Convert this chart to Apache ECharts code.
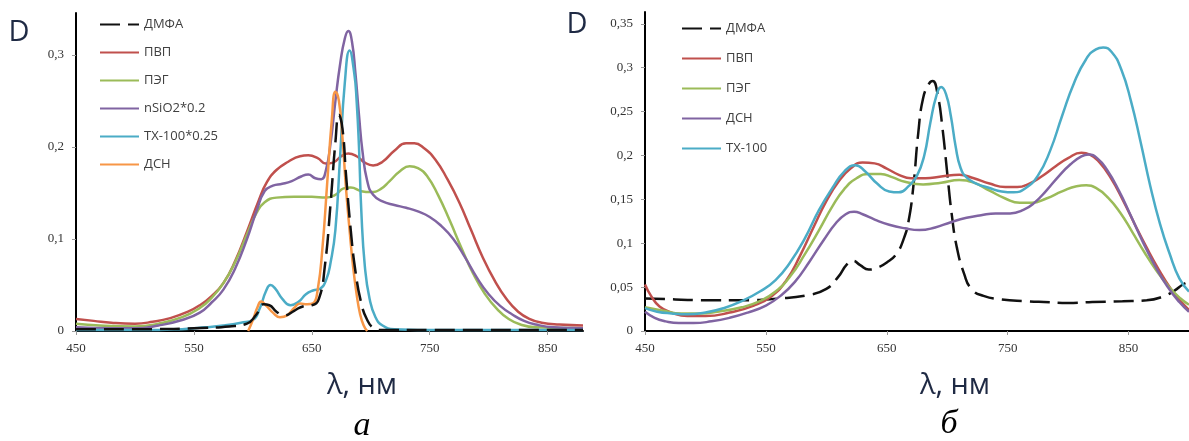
<!DOCTYPE html>
<html><head><meta charset="utf-8">
<script src="https://cdn.jsdelivr.net/npm/echarts@6/dist/echarts.min.js"></script>
<style>html,body{margin:0;padding:0;background:#fff}#c{width:1189px;height:441px}</style>
</head><body><div id="c"></div><script>
// ---- tick labels ----
const xTicks = [450, 550, 650, 750, 850];
const yTicksA = [0, 0.1, 0.2, 0.3];
const yTicksB = [0, 0.05, 0.1, 0.15, 0.2, 0.25, 0.3, 0.35];

// ---- panel a: [wavelength nm, D] ----
const a_DMFA = [[450,0.002],[500,0.002],[550,0.003],[580,0.005],[595,0.008],[603,0.018],[609,0.029],[614,0.028],[620,0.021],[627,0.017],[635,0.022],[643,0.027],[650,0.028],[656,0.035],[661,0.07],[666,0.14],[670,0.205],[673,0.235],[676,0.22],[679,0.17],[683,0.11],[687,0.065],[692,0.03],[697,0.012],[703,0.003],[710,0.001],[750,0.001],[880,0.001]];
const a_PVP = [[450,0.013],[465,0.011],[480,0.009],[500,0.008],[515,0.01],[530,0.014],[545,0.021],[555,0.028],[565,0.038],[575,0.052],[585,0.076],[595,0.108],[605,0.142],[612,0.162],[620,0.175],[630,0.184],[640,0.19],[647,0.191],[655,0.188],[662,0.182],[668,0.183],[675,0.19],[681,0.193],[688,0.19],[695,0.183],[702,0.18],[710,0.184],[720,0.196],[730,0.204],[737,0.204],[745,0.199],[755,0.186],[765,0.165],[775,0.14],[785,0.11],[795,0.08],[805,0.055],[815,0.035],[825,0.021],[835,0.013],[845,0.009],[860,0.007],[880,0.006]];
const a_PEG = [[450,0.008],[470,0.006],[500,0.005],[520,0.008],[540,0.015],[555,0.025],[565,0.036],[575,0.052],[585,0.075],[595,0.105],[603,0.128],[610,0.14],[620,0.145],[635,0.146],[650,0.146],[662,0.145],[670,0.148],[677,0.155],[683,0.156],[692,0.152],[700,0.151],[708,0.154],[716,0.163],[725,0.174],[733,0.179],[740,0.177],[748,0.168],[757,0.148],[767,0.12],[777,0.09],[787,0.062],[797,0.04],[807,0.024],[817,0.013],[827,0.007],[840,0.004],[880,0.003]];
const a_SiO2 = [[450,0.004],[480,0.003],[500,0.003],[520,0.006],[540,0.012],[555,0.02],[565,0.031],[575,0.045],[585,0.068],[595,0.1],[603,0.13],[610,0.152],[617,0.158],[625,0.16],[633,0.163],[641,0.168],[647,0.17],[653,0.166],[658,0.165],[662,0.175],[666,0.205],[670,0.25],[674,0.29],[678,0.318],[681,0.326],[684,0.315],[687,0.28],[690,0.235],[693,0.195],[697,0.163],[702,0.148],[710,0.141],[720,0.137],[730,0.134],[740,0.13],[750,0.124],[760,0.114],[770,0.1],[780,0.08],[790,0.058],[800,0.04],[810,0.027],[820,0.018],[830,0.011],[840,0.007],[855,0.004],[880,0.003]];
const a_TX = [[450,0.001],[500,0.001],[540,0.002],[560,0.004],[575,0.006],[590,0.009],[600,0.012],[606,0.025],[611,0.043],[615,0.05],[619,0.046],[625,0.035],[632,0.028],[639,0.032],[645,0.04],[651,0.044],[657,0.046],[662,0.055],[666,0.075],[670,0.11],[674,0.19],[678,0.27],[682,0.305],[686,0.28],[688,0.25],[690,0.2],[692,0.13],[695,0.07],[699,0.035],[704,0.015],[710,0.006],[720,0.002],[760,0.001],[880,0.001]];
const a_DSN = [[596,0],[600,0.012],[604,0.026],[607,0.032],[611,0.028],[617,0.02],[623,0.015],[629,0.017],[635,0.025],[640,0.03],[646,0.029],[651,0.03],[655,0.045],[659,0.09],[663,0.16],[667,0.23],[670,0.26],[673,0.25],[676,0.21],[679,0.155],[682,0.11],[685,0.07],[688,0.04],[691,0.018],[694,0.006],[697,0]];

// ---- panel b ----
const b_DMFA = [[450,0.037],[475,0.036],[500,0.035],[530,0.035],[560,0.037],[585,0.041],[600,0.048],[610,0.062],[617,0.076],[622,0.08],[628,0.075],[635,0.07],[642,0.072],[650,0.078],[658,0.088],[664,0.105],[668,0.125],[672,0.165],[676,0.225],[680,0.265],[685,0.282],[688,0.285],[692,0.27],[696,0.232],[700,0.18],[704,0.13],[708,0.095],[714,0.065],[720,0.048],[730,0.04],[745,0.036],[765,0.034],[780,0.033],[800,0.032],[820,0.033],[845,0.034],[865,0.035],[878,0.039],[888,0.046],[895,0.053],[900,0.056]];
const b_PVP = [[450,0.053],[455,0.04],[462,0.028],[472,0.021],[485,0.017],[500,0.017],[520,0.021],[540,0.029],[555,0.04],[567,0.058],[578,0.085],[590,0.12],[600,0.148],[610,0.17],[620,0.185],[630,0.192],[640,0.191],[650,0.185],[660,0.178],[670,0.174],[682,0.174],[695,0.176],[710,0.178],[722,0.174],[735,0.168],[748,0.164],[758,0.164],[768,0.168],[778,0.176],[790,0.188],[800,0.197],[811,0.203],[818,0.201],[826,0.192],[835,0.175],[845,0.15],[855,0.122],[865,0.095],[875,0.07],[885,0.048],[893,0.034],[900,0.024]];
const b_PEG = [[450,0.027],[465,0.023],[480,0.02],[495,0.02],[510,0.022],[530,0.027],[545,0.034],[558,0.045],[570,0.062],[582,0.087],[594,0.115],[605,0.142],[615,0.162],[625,0.174],[635,0.179],[645,0.179],[655,0.175],[665,0.17],[680,0.167],[695,0.169],[710,0.172],[722,0.169],[735,0.16],[748,0.151],[760,0.146],[770,0.146],[782,0.151],[795,0.159],[807,0.165],[815,0.166],[823,0.163],[833,0.152],[843,0.135],[853,0.113],[863,0.09],[873,0.069],[883,0.051],[893,0.037],[900,0.03]];
const b_DSN = [[450,0.022],[458,0.015],[467,0.011],[478,0.009],[490,0.009],[505,0.011],[520,0.015],[535,0.021],[550,0.029],[562,0.04],[574,0.056],[586,0.079],[598,0.104],[608,0.123],[616,0.133],[623,0.136],[630,0.133],[640,0.127],[652,0.121],[665,0.117],[677,0.115],[690,0.118],[703,0.124],[716,0.129],[728,0.132],[740,0.134],[752,0.134],[763,0.138],[772,0.146],[782,0.16],[792,0.176],[802,0.19],[811,0.199],[817,0.201],[824,0.197],[832,0.184],[842,0.16],[852,0.131],[862,0.101],[872,0.074],[882,0.051],[892,0.033],[900,0.022]];
const b_TX = [[450,0.026],[460,0.022],[472,0.02],[485,0.019],[500,0.021],[515,0.026],[530,0.034],[545,0.045],[558,0.058],[570,0.078],[582,0.105],[594,0.138],[605,0.163],[615,0.182],[624,0.189],[632,0.182],[642,0.168],[652,0.159],[660,0.158],[668,0.165],[675,0.177],[681,0.2],[686,0.237],[691,0.268],[695,0.278],[699,0.27],[703,0.245],[707,0.21],[711,0.186],[716,0.175],[724,0.168],[735,0.163],[745,0.159],[755,0.158],[765,0.163],[775,0.177],[785,0.205],[795,0.245],[805,0.283],[815,0.31],[823,0.321],[829,0.323],[836,0.318],[844,0.298],[852,0.262],[860,0.215],[868,0.165],[876,0.122],[884,0.088],[892,0.06],[900,0.045]];

const C = {black:'#111', red:'#c0504d', green:'#9bbb59', purple:'#8064a2', cyan:'#4bacc6', orange:'#f79646'};
const DASH = [20, 8];

function line(name, data, color, gi, dashed) {
  return {
    type:'line', name, data, xAxisIndex:gi, yAxisIndex:gi,
    symbol:'none', showSymbol:false, smooth:0.5,
    lineStyle:{width:2.5, color, type: dashed ? DASH : 'solid'},
    itemStyle:{color}, emphasis:{disabled:true}
  };
}

const comma = v => String(+v.toFixed(2)).replace('.', ',');
function xAx(gi, max) {
  return {
    type:'value', gridIndex:gi, min:450, max,
    axisLine:{show:true, lineStyle:{color:'#000', width:2}},
    axisTick:{show:true, length:4, lineStyle:{color:'#999'}, customValues:xTicks},
    axisLabel:{customValues:xTicks, fontFamily:'Liberation Serif', fontSize:13, color:'#333', margin:11},
    splitLine:{show:false}
  };
}
function yAx(gi, max, ticks) {
  return {
    type:'value', gridIndex:gi, min:0, max,
    axisLine:{show:true, lineStyle:{color:'#000', width:2}},
    axisTick:{show:true, length:4, lineStyle:{color:'#999'}, customValues:ticks},
    axisLabel:{customValues:ticks, formatter:comma, fontFamily:'Liberation Serif', fontSize:13, color:'#333', margin:12},
    splitLine:{show:false}
  };
}
const legendBase = {
  orient:'vertical', itemWidth:39, itemHeight:14, selectedMode:false, padding:0,
  itemStyle:{color:'rgba(0,0,0,0)', borderColor:'rgba(0,0,0,0)', borderWidth:0, opacity:0},
  textStyle:{fontFamily:'Open Sans', fontSize:13, color:'#404040'}
};

const chart = echarts.init(document.getElementById('c'), null, {renderer:'canvas'});
chart.setOption({
  animation:false,
  backgroundColor:'#fff',
  grid:[{left:76, top:13, width:507, height:318}, {left:645, top:12, width:544, height:319}],
  xAxis:[xAx(0, 880), xAx(1, 900)],
  yAxis:[yAx(0, 0.3457, yTicksA), yAx(1, 0.3635, yTicksB)],
  legend:[
    Object.assign({}, legendBase, {left:99, top:18, itemGap:15,
      data:['ДМФА','ПВП','ПЭГ','nSiO2*0.2','TX-100*0.25','ДСН']}),
    Object.assign({}, legendBase, {left:681, top:22, itemGap:17,
      data:['b:ДМФА','b:ПВП','b:ПЭГ','b:ДСН','b:TX-100'], formatter:n => n.slice(2)})
  ],
  series:[
    line('ПВП', a_PVP, C.red, 0),
    line('ПЭГ', a_PEG, C.green, 0),
    line('nSiO2*0.2', a_SiO2, C.purple, 0),
    line('TX-100*0.25', a_TX, C.cyan, 0),
    line('ДСН', a_DSN, C.orange, 0),
    line('ДМФА', a_DMFA, C.black, 0, true),
    line('b:ДМФА', b_DMFA, C.black, 1, true),
    line('b:ПВП', b_PVP, C.red, 1),
    line('b:ПЭГ', b_PEG, C.green, 1),
    line('b:ДСН', b_DSN, C.purple, 1),
    line('b:TX-100', b_TX, C.cyan, 1)
  ],
  graphic:[
    {type:'text', style:{text:'D', x:19, y:33, align:'center', verticalAlign:'middle', fontSize:29, fontFamily:'Open Sans', fill:'#1f2a44'}},
    {type:'text', style:{text:'D', x:577, y:25, align:'center', verticalAlign:'middle', fontSize:29, fontFamily:'Open Sans', fill:'#1f2a44'}},
    {type:'text', style:{text:'λ, нм', x:362, y:386, align:'center', verticalAlign:'middle', fontSize:29, fontFamily:'Open Sans', fill:'#1f2a44'}},
    {type:'text', style:{text:'λ, нм', x:955, y:386, align:'center', verticalAlign:'middle', fontSize:29, fontFamily:'Open Sans', fill:'#1f2a44'}},
    {type:'text', style:{text:'а', x:362, y:426, align:'center', verticalAlign:'middle', fontSize:34, fontStyle:'italic', fontFamily:'Liberation Serif', fill:'#000'}},
    {type:'text', style:{text:'б', x:949, y:424, align:'center', verticalAlign:'middle', fontSize:34, fontStyle:'italic', fontFamily:'Liberation Serif', fill:'#000'}}
  ]
});
</script></body></html>
